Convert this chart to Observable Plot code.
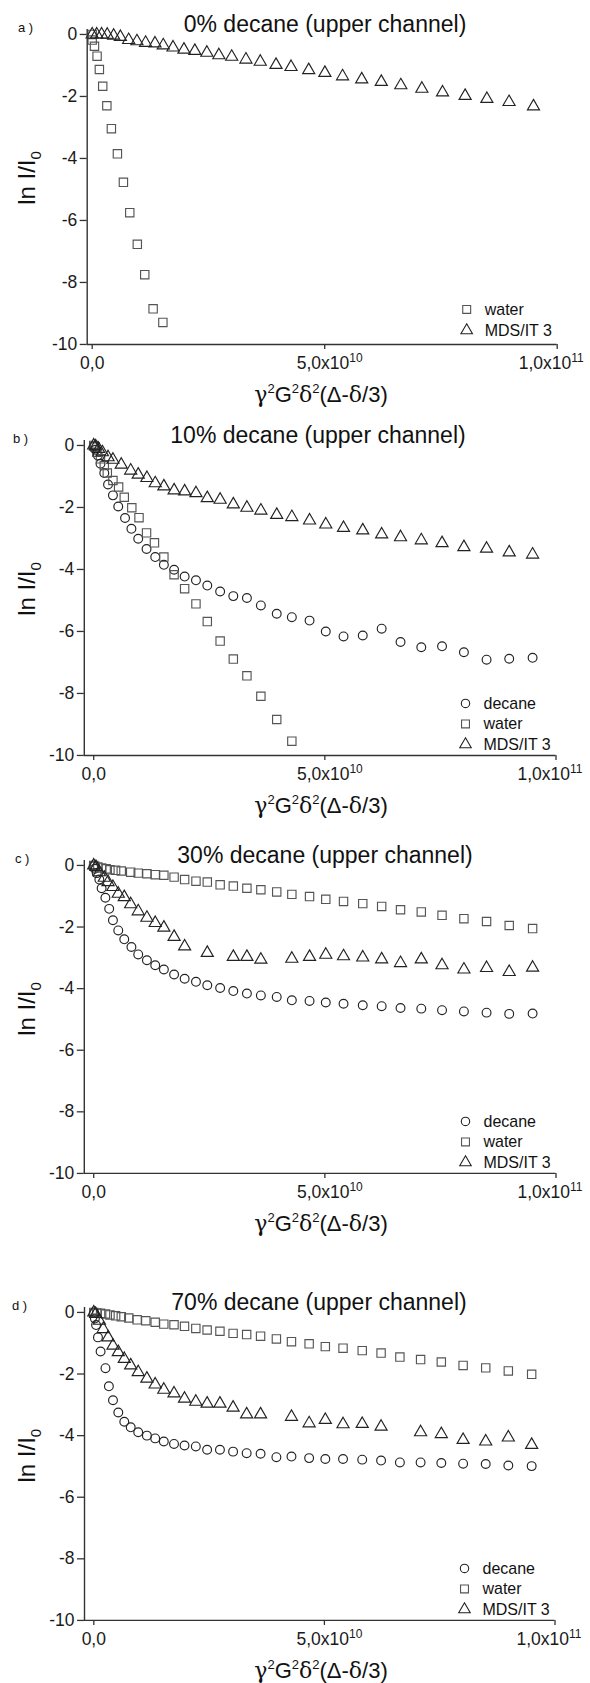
<!DOCTYPE html>
<html><head><meta charset="utf-8">
<script src="https://cdn.jsdelivr.net/npm/d3@7"></script>
<script src="https://cdn.jsdelivr.net/npm/@observablehq/plot@0.6"></script>
<style>
body{margin:0;background:#fff;}
#page{position:relative;width:590px;height:1683px;overflow:hidden;background:#fff;}
#page svg{position:absolute;left:0;}
</style></head><body><div id="page"></div>
<script>
// ---------------- data ----------------
const panelTitles = ["0% decane (upper channel)", "10% decane (upper channel)", "30% decane (upper channel)", "70% decane (upper channel)"];
const panelLetters = ["a )", "b )", "c )", "d )"];
const seriesNames = ["decane", "water", "MDS/IT 3"];
const xTicks = [0, 5e10, 1e11];
const xTickLabels = ["0,0", "5,0x10^10", "1,0x10^11"];
const yTicks = [0, -2, -4, -6, -8, -10];
const xTitle = "γ^2G^2δ^2(Δ-δ/3)";

// panel a (0% decane)
const aWaterX = [0, 0, 4.9e8, 1.05e9, 1.54e9, 2.26e9, 3.15e9, 4.12e9, 5.42e9, 6.71e9, 8.08e9, 9.70e9, 1.13e10, 1.31e10, 1.52e10];
const aWaterY = [0, -0.18, -0.38, -0.70, -1.13, -1.67, -2.30, -3.04, -3.85, -4.77, -5.75, -6.77, -7.75, -8.85, -9.29];
const aMdsX = [0, 9.7e8, 2.02e9, 3.23e9, 4.61e9, 6.06e9, 7.84e9, 9.62e9, 1.148e10, 1.35e10, 1.528e10, 1.738e10, 1.973e10, 2.207e10, 2.466e10, 2.724e10, 3.0e10, 3.306e10, 3.614e10, 3.953e10, 4.276e10, 4.656e10, 5.004e10, 5.384e10, 5.796e10, 6.217e10, 6.637e10, 7.09e10, 7.534e10, 8.02e10, 8.488e10, 8.965e10, 9.49e10];
const aMdsY = [0, 0, 0, -0.01, -0.04, -0.08, -0.18, -0.22, -0.27, -0.29, -0.35, -0.42, -0.49, -0.53, -0.59, -0.67, -0.72, -0.81, -0.88, -0.98, -1.05, -1.15, -1.24, -1.35, -1.45, -1.53, -1.64, -1.75, -1.87, -1.98, -2.08, -2.18, -2.32];

// panel b (10% decane)
const bDecX = [0, 4.1e8, 9.0e8, 1.47e9, 2.29e9, 3.10e9, 4.16e9, 5.31e9, 6.78e9, 8.16e9, 9.63e9, 1.143e10, 1.331e10, 1.518e10, 1.739e10, 1.967e10, 2.212e10, 2.457e10, 2.735e10, 3.02e10, 3.314e10, 3.616e10, 3.959e10, 4.286e10, 4.669e10, 5.02e10, 5.404e10, 5.82e10, 6.229e10, 6.637e10, 7.086e10, 7.535e10, 8.008e10, 8.498e10, 8.988e10, 9.494e10];
const bDecY = [-0.03, -0.14, -0.32, -0.59, -0.89, -1.26, -1.61, -1.97, -2.34, -2.69, -3.01, -3.34, -3.60, -3.85, -4.01, -4.23, -4.35, -4.52, -4.71, -4.86, -4.92, -5.16, -5.43, -5.54, -5.65, -6.0, -6.16, -6.13, -5.91, -6.34, -6.51, -6.48, -6.67, -6.91, -6.88, -6.85];
const bWaterX = [0, 2.4e8, 6.5e8, 1.47e9, 2.29e9, 2.94e9, 4.16e9, 5.39e9, 6.61e9, 8.24e9, 9.8e9, 1.143e10, 1.314e10, 1.518e10, 1.739e10, 1.967e10, 2.212e10, 2.457e10, 2.735e10, 3.02e10, 3.314e10, 3.616e10, 3.959e10, 4.286e10];
const bWaterY = [0, -0.05, -0.22, -0.43, -0.65, -0.89, -1.13, -1.34, -1.67, -2.01, -2.33, -2.82, -3.14, -3.60, -4.17, -4.62, -5.11, -5.68, -6.31, -6.89, -7.43, -8.09, -8.84, -9.54];
const bMdsX = [0, 4.1e8, 1.06e9, 1.88e9, 3.10e9, 4.16e9, 5.96e9, 8.0e9, 9.63e9, 1.151e10, 1.331e10, 1.518e10, 1.739e10, 1.967e10, 2.212e10, 2.457e10, 2.735e10, 3.02e10, 3.314e10, 3.616e10, 3.959e10, 4.286e10, 4.669e10, 5.02e10, 5.404e10, 5.82e10, 6.229e10, 6.637e10, 7.086e10, 7.535e10, 8.008e10, 8.498e10, 8.988e10, 9.494e10];
const bMdsY = [0, -0.03, -0.11, -0.22, -0.38, -0.46, -0.62, -0.81, -0.94, -1.05, -1.22, -1.32, -1.45, -1.48, -1.54, -1.70, -1.75, -1.90, -2.01, -2.10, -2.24, -2.31, -2.42, -2.55, -2.66, -2.74, -2.87, -2.96, -3.06, -3.15, -3.28, -3.33, -3.45, -3.52];

// panel c (30% decane)
const cDecX = [0, 2.4e8, 6.5e8, 1.22e9, 1.71e9, 2.53e9, 3.35e9, 4.16e9, 5.31e9, 6.61e9, 8.16e9, 9.63e9, 1.151e10, 1.331e10, 1.518e10, 1.739e10, 1.967e10, 2.212e10, 2.457e10, 2.735e10, 3.02e10, 3.314e10, 3.616e10, 3.959e10, 4.286e10, 4.669e10, 5.02e10, 5.404e10, 5.82e10, 6.229e10, 6.637e10, 7.086e10, 7.535e10, 8.008e10, 8.498e10, 8.988e10, 9.494e10];
const cDecY = [0, -0.11, -0.25, -0.46, -0.74, -1.05, -1.41, -1.78, -2.11, -2.40, -2.65, -2.89, -3.08, -3.24, -3.38, -3.54, -3.68, -3.78, -3.89, -3.98, -4.08, -4.16, -4.22, -4.27, -4.38, -4.40, -4.45, -4.49, -4.54, -4.57, -4.63, -4.65, -4.70, -4.74, -4.78, -4.82, -4.81];
const cWaterX = [0, 2.4e8, 9.0e8, 1.71e9, 2.69e9, 3.51e9, 4.73e9, 5.96e9, 8.0e9, 9.63e9, 1.151e10, 1.331e10, 1.518e10, 1.739e10, 1.967e10, 2.212e10, 2.457e10, 2.735e10, 3.02e10, 3.314e10, 3.616e10, 3.959e10, 4.286e10, 4.669e10, 5.02e10, 5.404e10, 5.82e10, 6.229e10, 6.637e10, 7.086e10, 7.535e10, 8.008e10, 8.498e10, 8.988e10, 9.494e10];
const cWaterY = [0, -0.03, -0.05, -0.08, -0.11, -0.14, -0.16, -0.18, -0.22, -0.25, -0.27, -0.30, -0.32, -0.38, -0.46, -0.51, -0.54, -0.63, -0.67, -0.74, -0.79, -0.86, -0.94, -1.01, -1.10, -1.17, -1.24, -1.33, -1.44, -1.51, -1.62, -1.73, -1.82, -1.95, -2.05];
const cMdsX = [0, 4.9e8, 1.22e9, 2.29e9, 3.10e9, 4.16e9, 5.31e9, 6.61e9, 8.0e9, 9.63e9, 1.151e10, 1.331e10, 1.518e10, 1.739e10, 1.967e10, 2.457e10, 3.02e10, 3.314e10, 3.616e10, 4.286e10, 4.669e10, 5.02e10, 5.404e10, 5.82e10, 6.229e10, 6.637e10, 7.086e10, 7.535e10, 8.008e10, 8.498e10, 8.988e10, 9.494e10];
const cMdsY = [0, -0.05, -0.22, -0.40, -0.54, -0.70, -0.92, -1.03, -1.26, -1.49, -1.70, -1.87, -2.02, -2.32, -2.63, -2.84, -2.97, -2.97, -3.06, -3.03, -2.97, -2.90, -2.95, -2.99, -3.05, -3.17, -3.05, -3.24, -3.38, -3.33, -3.46, -3.32];

// panel d (70% decane)
const dDecX = [0, 2.4e8, 4.9e8, 9.0e8, 1.47e9, 2.53e9, 3.27e9, 4.16e9, 5.31e9, 6.61e9, 8.0e9, 9.63e9, 1.151e10, 1.331e10, 1.518e10, 1.739e10, 1.967e10, 2.212e10, 2.457e10, 2.735e10, 3.02e10, 3.314e10, 3.616e10, 3.959e10, 4.286e10, 4.669e10, 5.02e10, 5.404e10, 5.82e10, 6.229e10, 6.637e10, 7.086e10, 7.535e10, 8.008e10, 8.498e10, 8.988e10, 9.494e10];
const dDecY = [0, -0.2, -0.41, -0.81, -1.27, -1.81, -2.40, -2.85, -3.25, -3.55, -3.73, -3.89, -4.0, -4.09, -4.19, -4.27, -4.32, -4.35, -4.46, -4.46, -4.52, -4.57, -4.59, -4.70, -4.68, -4.73, -4.76, -4.76, -4.78, -4.81, -4.87, -4.87, -4.89, -4.91, -4.92, -4.97, -4.99];
const dWaterX = [0, 6.5e8, 1.47e9, 2.53e9, 3.51e9, 4.73e9, 5.96e9, 7.59e9, 9.39e9, 1.127e10, 1.331e10, 1.518e10, 1.739e10, 1.967e10, 2.212e10, 2.457e10, 2.735e10, 3.02e10, 3.314e10, 3.616e10, 3.959e10, 4.286e10, 4.669e10, 5.02e10, 5.404e10, 5.82e10, 6.229e10, 6.637e10, 7.086e10, 7.535e10, 8.008e10, 8.498e10, 8.988e10, 9.494e10];
const dWaterY = [0, -0.02, -0.03, -0.05, -0.08, -0.11, -0.14, -0.18, -0.24, -0.27, -0.32, -0.38, -0.40, -0.45, -0.52, -0.57, -0.61, -0.68, -0.72, -0.77, -0.86, -0.95, -1.02, -1.11, -1.16, -1.24, -1.32, -1.45, -1.53, -1.61, -1.72, -1.80, -1.90, -2.01];
const dMdsX = [0, 4.1e8, 1.22e9, 2.04e9, 3.10e9, 4.16e9, 5.31e9, 6.61e9, 8.0e9, 9.63e9, 1.151e10, 1.331e10, 1.518e10, 1.739e10, 1.967e10, 2.212e10, 2.457e10, 2.735e10, 3.02e10, 3.314e10, 3.616e10, 4.286e10, 4.669e10, 5.02e10, 5.404e10, 5.82e10, 6.229e10, 7.086e10, 7.535e10, 8.008e10, 8.498e10, 8.988e10, 9.494e10];
const dMdsY = [0, -0.05, -0.27, -0.54, -0.81, -1.08, -1.29, -1.51, -1.72, -1.94, -2.15, -2.34, -2.51, -2.63, -2.80, -2.90, -2.96, -2.96, -3.09, -3.31, -3.31, -3.39, -3.60, -3.49, -3.63, -3.62, -3.71, -3.89, -3.95, -4.14, -4.19, -4.06, -4.30];

const panelSeries = [
  [["water", aWaterX, aWaterY], ["MDS/IT 3", aMdsX, aMdsY]],
  [["decane", bDecX, bDecY], ["water", bWaterX, bWaterY], ["MDS/IT 3", bMdsX, bMdsY]],
  [["decane", cDecX, cDecY], ["water", cWaterX, cWaterY], ["MDS/IT 3", cMdsX, cMdsY]],
  [["decane", dDecX, dDecY], ["water", dWaterX, dWaterY], ["MDS/IT 3", dMdsX, dMdsY]]
];

// ---------------- layout & style ----------------
const FONT = "'Liberation Sans', Arial, Helvetica, sans-serif";
const GREEK = "'DejaVu Serif', 'Liberation Serif', serif";
const symbolStyle = {
  "decane": {symbol: "circle", r: 4.4, stroke: "#222"},
  "water": {symbol: "square", r: 4.7, stroke: "#555"},
  "MDS/IT 3": {symbol: "triangle", r: 4.5, stroke: "#222"}
};
// horizontal nudge of x tick labels (the label with a superscript is centred on its base part)
const xTickLabelShift = [0, 5, -6];
// page-pixel layout of each panel
const layout = [
  {y0: 34, y10: 344, xSpine: 86.7, x0: 91.7, x1: 556.7, titleX: 325, letterX: 18, legendRows: [35, 14]},
  {y0: 445, y10: 755, xSpine: 83.8, x0: 93.2, x1: 555.5, titleX: 318, letterX: 13, legendRows: [52, 31.5, 11]},
  {y0: 865, y10: 1173, xSpine: 83.8, x0: 93.2, x1: 555.5, titleX: 325, letterX: 15, legendRows: [52, 31.5, 11]},
  {y0: 1311.7, y10: 1619.7, xSpine: 84, x0: 93.3, x1: 554.5, titleX: 319, letterX: 12, legendRows: [52, 31.5, 11]}
];

const page = document.getElementById("page");
const NS = "http://www.w3.org/2000/svg";

function supText(el, s, supSize, rise, greekFont) {
  // "^n" marks a superscript run of digits
  const parts = s.split(/(\^\d+|[γδ])/).filter(p => p.length);
  el.textContent = "";
  let raised = false;
  for (const p of parts) {
    const t = document.createElementNS(NS, "tspan");
    if (p.startsWith("^")) {
      t.textContent = p.slice(1);
      t.setAttribute("font-size", supSize);
      t.setAttribute("dy", -rise);
      raised = true;
    } else {
      t.textContent = p;
      if (greekFont && /[γδ]/.test(p)) t.setAttribute("font-family", greekFont);
      if (raised) { t.setAttribute("dy", rise); raised = false; }
    }
    el.appendChild(t);
  }
}

layout.forEach((L, k) => {
  const pxPerX = (L.x1 - L.x0) / 1e11;
  const xmin = -(L.x0 - L.xSpine) / pxPerX;
  const pxPerY = (L.y10 - L.y0) / 10;
  const ymax = 0.16;
  const frameTop = L.y0 - ymax * pxPerY;
  const mt = 10, mb = 60;
  const height = mt + (L.y10 - frameTop) + mb;

  const marks = [];
  for (const [name, X, Y] of panelSeries[k]) {
    const st = symbolStyle[name];
    marks.push(Plot.dot(d3.zip(X, Y), {x: d => d[0], y: d => d[1], symbol: st.symbol, r: st.r, stroke: st.stroke, fill: "none", strokeWidth: 1.15}));
  }
  // legend
  panelSeries[k].forEach(([name], i) => {
    const st = symbolStyle[name];
    const off = L.legendRows[i];
    marks.push(Plot.dot([name], {frameAnchor: "bottom-right", dx: -90.5, dy: -off, symbol: st.symbol, r: st.r * 0.95, stroke: st.stroke, fill: "none", strokeWidth: 1.1}));
    marks.push(Plot.text([name], {frameAnchor: "bottom-right", dx: -72.5, dy: -off, text: d => d, textAnchor: "start", lineAnchor: "middle", fontSize: 16, fill: "#111"}));
  });
  marks.push(Plot.axisY({ticks: yTicks, tickSize: 7, tickPadding: 3, tickFormat: d => String(d), label: null, stroke: "#333", strokeWidth: 1.3, fontSize: 17.5, fill: "#1a1a1a"}));
  marks.push(Plot.axisX({ticks: xTicks, tickSize: 5, tickPadding: 7, tickFormat: d => xTickLabels[xTicks.indexOf(d)], label: null, stroke: "#333", strokeWidth: 1.3, fontSize: 17.5, fill: "#1a1a1a"}));
  marks.push(Plot.ruleX([xmin], {stroke: "#333", strokeWidth: 1.4}));
  marks.push(Plot.ruleY([-10], {stroke: "#333", strokeWidth: 1.4}));

  const chart = Plot.plot({
    width: 590, height,
    marginLeft: L.xSpine, marginRight: 590 - L.x1, marginTop: mt, marginBottom: mb,
    style: {fontFamily: FONT, fontSize: "17px", background: "transparent", overflow: "visible"},
    x: {domain: [xmin, 1e11]},
    y: {domain: [-10, ymax]},
    marks
  });
  chart.style.top = (frameTop - mt) + "px";
  chart.querySelectorAll("text").forEach(t => {
    const s = t.textContent;
    const idx = xTickLabels.indexOf(s);
    if (idx >= 0 && xTickLabelShift[idx]) t.setAttribute("dx", xTickLabelShift[idx]);
    if (s.includes("^")) supText(t, s, 12, 7);
  });
  page.appendChild(chart);
});

// overlay with titles and axis labels
const ov = document.createElementNS(NS, "svg");
ov.setAttribute("width", 590); ov.setAttribute("height", 1683);
ov.style.top = "0px";
ov.setAttribute("font-family", FONT);
ov.setAttribute("fill", "#111");
layout.forEach((L, k) => {
  const title = document.createElementNS(NS, "text");
  title.setAttribute("x", L.titleX); title.setAttribute("y", L.y0 - 2);
  title.setAttribute("text-anchor", "middle"); title.setAttribute("font-size", 23);
  title.textContent = panelTitles[k];
  ov.appendChild(title);

  const letter = document.createElementNS(NS, "text");
  letter.setAttribute("x", L.letterX); letter.setAttribute("y", L.y0 - 2);
  letter.setAttribute("font-size", 13);
  letter.textContent = panelLetters[k];
  ov.appendChild(letter);

  const yl = document.createElementNS(NS, "text");
  yl.setAttribute("transform", `translate(35,${L.y0 + 144}) rotate(-90)`);
  yl.setAttribute("text-anchor", "middle"); yl.setAttribute("font-size", 24);
  const t1 = document.createElementNS(NS, "tspan"); t1.textContent = "ln I/I";
  const t2 = document.createElementNS(NS, "tspan"); t2.textContent = "0";
  t2.setAttribute("font-size", 15); t2.setAttribute("dy", 6);
  yl.append(t1, t2);
  ov.appendChild(yl);

  const xl = document.createElementNS(NS, "text");
  xl.setAttribute("x", 321); xl.setAttribute("y", L.y10 + 58);
  xl.setAttribute("text-anchor", "middle"); xl.setAttribute("font-size", 22);
  supText(xl, xTitle, 13, 9, GREEK);
  ov.appendChild(xl);
});
page.appendChild(ov);
</script></body></html>
